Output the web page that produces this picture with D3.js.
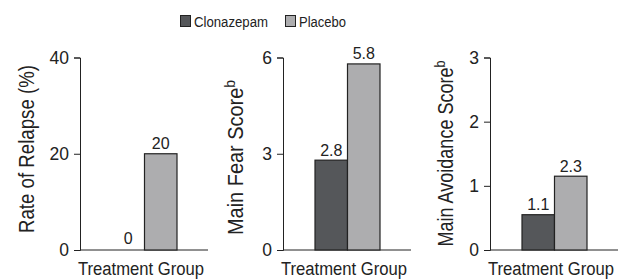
<!DOCTYPE html>
<html lang="en">
<head>
    <meta charset="UTF-8">
    <title>Clonazepam vs Placebo</title>
    <script src="https://cdnjs.cloudflare.com/ajax/libs/d3/7.8.5/d3.min.js"></script>
    <style>
        body {
            margin: 0;
            background-color: white;
        }

        svg text {
            font-family: "Liberation Sans", Arial, sans-serif;
            fill: #222;
        }
    </style>
</head>
<body>
<div id="chart"></div>
<script>
    const groups = ['Clonazepam', 'Placebo'];
    const groupColors = ['#55575a', '#adadaf'];

    const panelTitles = ['Rate of Relapse (%)', 'Main Fear Score', 'Main Avoidance Score'];
    const panelSup = ['', 'b', 'b'];
    const panelMax = [40, 6, 3];
    const panelTicks = [[0, 20, 40], [0, 3, 6], [0, 1, 2, 3]];

    // bar heights as drawn, and the numbers printed above them
    const relapseValues = [0, 20];
    const fearValues = [2.8, 5.8];
    const avoidanceValues = [0.55, 1.15];
    const relapseLabels = ['0', '20'];
    const fearLabels = ['2.8', '5.8'];
    const avoidanceLabels = ['1.1', '2.3'];

    const xLabel = 'Treatment Group';

    const width = 624;
    const height = 280;
    const plotTop = 57.5;
    const plotBottom = 250;
    const axisX = [80, 283, 490];

    // the original type is a narrow sans, so lengths are pinned
    const titleOffset = [46.5, 40, 37];
    const titleCenter = [149, 157.5, 153.5];
    const titleLength = [168, 155, 186];

    const svg = d3.select('#chart')
        .append('svg')
        .attr('width', width)
        .attr('height', height);

    // legend
    const legend = svg.append('g').attr('transform', 'translate(180, 15)');
    const legendX = [0, 105];
    const legendLength = [74, 47];
    groups.forEach((g, i) => {
        legend.append('rect')
            .attr('x', legendX[i] + 0.5).attr('y', 0.5)
            .attr('width', 10).attr('height', 11)
            .attr('fill', groupColors[i])
            .attr('stroke', '#222');
        legend.append('text')
            .attr('x', legendX[i] + 14).attr('y', 12)
            .attr('font-size', 15.5)
            .attr('textLength', legendLength[i])
            .attr('lengthAdjust', 'spacingAndGlyphs')
            .text(g);
    });

    const values = [relapseValues, fearValues, avoidanceValues];
    const labels = [relapseLabels, fearLabels, avoidanceLabels];

    panelTitles.forEach((title, p) => {
        const x0 = axisX[p];
        const y = d3.scaleLinear().domain([0, panelMax[p]]).range([plotBottom, plotTop]);
        const x = d3.scaleBand().domain(groups).range([x0 + 32, x0 + 97]);

        const g = svg.append('g');

        const yAxis = d3.axisLeft(y).tickValues(panelTicks[p]).tickFormat(d3.format('d'))
            .tickSize(6).tickPadding(5);
        const ga = g.append('g').attr('transform', `translate(${x0}, 0)`).call(yAxis);
        ga.attr('font-family', null).attr('font-size', null);
        ga.selectAll('text').attr('font-size', 17.5).style('fill', '#222');
        ga.selectAll('line, path').attr('stroke', '#222');

        g.append('line')
            .attr('x1', x0).attr('x2', x0 + 128)
            .attr('y1', y(0)).attr('y2', y(0))
            .attr('stroke', '#222');

        g.selectAll('rect.bar')
            .data(groups)
            .enter()
            .append('rect')
            .attr('class', 'bar')
            .attr('x', d => x(d))
            .attr('y', (d, i) => y(values[p][i]))
            .attr('width', x.bandwidth())
            .attr('height', (d, i) => y(0) - y(values[p][i]))
            .attr('fill', (d, i) => groupColors[i])
            .attr('stroke', (d, i) => values[p][i] > 0 ? '#222' : 'none')
            .attr('stroke-width', 1.2);

        g.selectAll('text.val')
            .data(groups)
            .enter()
            .append('text')
            .attr('class', 'val')
            .attr('x', d => x(d) + x.bandwidth() / 2)
            .attr('y', (d, i) => y(values[p][i]) - (values[p][i] > 0 ? 4.5 : 6))
            .attr('text-anchor', 'middle')
            .attr('font-size', 16)
            .text((d, i) => labels[p][i]);

        // narrow type: squeeze horizontally instead of textLength
        g.append('text')
            .attr('transform', `translate(${x0 + 61}, 275) scale(0.9, 1)`)
            .attr('text-anchor', 'middle')
            .attr('font-size', 18.5)
            .text(xLabel);

        const t = g.append('text')
            .attr('transform', `translate(${x0 - titleOffset[p]}, ${titleCenter[p]}) rotate(-90)`)
            .attr('text-anchor', 'middle')
            .attr('font-size', 21.5)
            .attr('textLength', titleLength[p])
            .attr('lengthAdjust', 'spacingAndGlyphs')
            .text(title);
        if (panelSup[p]) {
            t.append('tspan')
                .attr('baseline-shift', 'super')
                .attr('font-size', 15)
                .text(panelSup[p]);
        }
    });
</script>
</body>
</html>
